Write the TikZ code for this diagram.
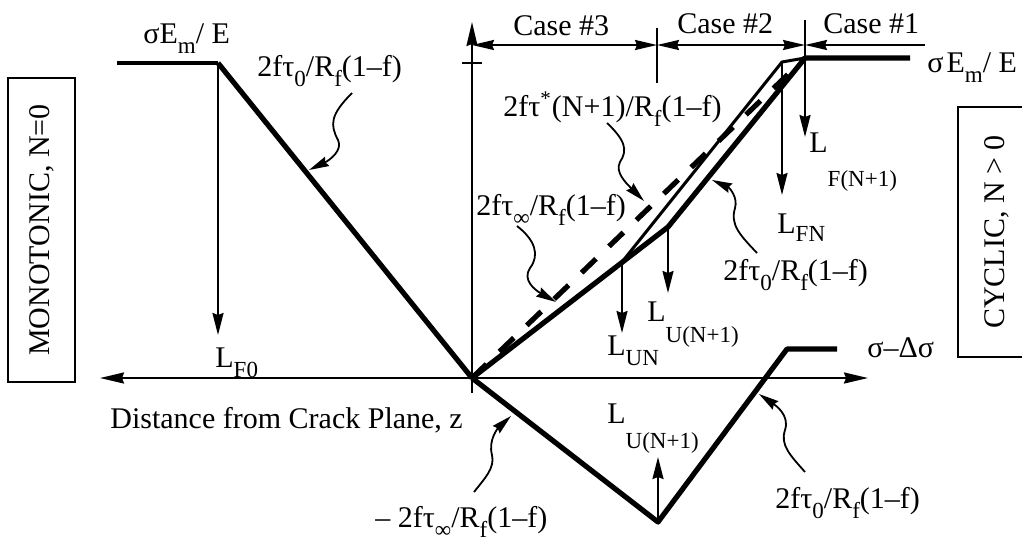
\documentclass[tikz,border=0pt]{standalone}
\usepackage{fontspec}
\setmainfont{Liberation Serif}
\usetikzlibrary{arrows.meta,positioning,calc}
% lowered subscripts, as the plot sets them
\newcommand{\sub}[1]{\raisebox{-0.35em}{\fontsize{11.5}{11.5}\selectfont #1}}
\newcommand{\lsub}[2]{\raisebox{-#1}{\fontsize{11.5}{11.5}\selectfont #2}}

\begin{document}
\begin{tikzpicture}[
    x=0.5pt, y=-0.5pt,
    font=\fontsize{15}{18}\selectfont,
    curve/.style={line width=2.6pt, line join=round},
    axis/.style={line width=1pt, -{Stealth[length=12pt,width=5.5pt,inset=1pt]}},
    drop/.style={line width=1pt, -{Stealth[length=11pt,width=5.5pt,inset=1pt]}},
    squig/.style={line width=0.9pt, -{Stealth[length=10pt,width=5pt,inset=1pt]}},
    span/.style={line width=1pt, {Stealth[length=11pt,width=5pt,inset=1pt]}-{Stealth[length=11pt,width=5pt,inset=1pt]}},
    lbl/.style={anchor=base west, inner sep=0pt},
    modebox/.style={draw, line width=1pt, rotate=90, inner sep=0pt},
]
    \useasboundingbox (0,0) rectangle (1022,542);

    % Mode boxes
    \node[modebox, minimum width=152pt, minimum height=33.5pt] (mono) at (41.5,230) {MONOTONIC, N=0};
    \node[modebox, minimum width=125pt, minimum height=39pt] (cyc) at (997,232) {CYCLIC, N > 0};

    % Axes
    \coordinate (O) at (472,378);
    \coordinate (xl) at (100,378);
    \coordinate (xr) at (868,378);
    \coordinate (yb) at (472,393);
    \coordinate (yt) at (472,22);
    \draw[axis] (O) -- (xl);
    \draw[axis] (O) -- (xr);
    \draw[axis] (yb) -- (yt);
    \draw[line width=1pt] (462,63) -- (482,63);

    % Case spans
    \coordinate (c3) at (472,45);
    \coordinate (c2) at (657,45);
    \coordinate (c1) at (805,45);
    \coordinate (c0) at (925,45);
    \draw[span] (c3) -- (c2);
    \draw[span] (c2) -- (c1);
    \draw[line width=1pt, -{Stealth[length=11pt,width=5pt,inset=1pt]}] (c0) -- (c1);
    \draw[line width=1pt] (657,28) -- (657,83);
    \node[lbl] (case3) at (513,35) {Case \#3};
    \node[lbl] (case2) at (677,33) {Case \#2};
    \node[lbl] (case1) at (823,33) {Case \#1};

    % Monotonic profile
    \coordinate (m0) at (117,63);
    \coordinate (m1) at (218,63);
    \draw[line width=1.8pt] (m0) -- (m1);
    \draw[curve] (m1) -- (O);
    \draw[drop] (m1) -- (218,335);
    \node[lbl] (sEl) at (143,43) {σE\sub{m}/ E};
    \node[lbl] (t0a) at (257,76) {2fτ\sub{0}/R\sub{f}(1–f)};
    \node[lbl] (LF0) at (215,367) {L\lsub{5pt}{F0}};
    \coordinate (t0aend) at (309,170);
    \draw[squig] (352,93) .. controls (330,115) and (330,125) .. (338,140)
        .. controls (343,150) and (330,160) .. (t0aend);

    % Cyclic profiles
    \coordinate (U1) at (622,262);
    \coordinate (U2) at (668,227);
    \coordinate (F1) at (782,62);
    \coordinate (P) at (805,58);
    \coordinate (Pe) at (910,58);
    \draw[curve] (O) -- (U2) -- (P) -- (Pe);
    \draw[line width=1.5pt, line join=round] (U1) -- (F1) -- (P);
    \draw[curve, dash pattern=on 10pt off 9pt] (O) -- (P);
    \draw[drop] (U1) -- (622,333);
    \draw[drop] (U2) -- (668,293);
    \draw[drop] (F1) -- (782,195);
    \draw[drop] (805,20) -- (805,137);
    \node[lbl] (sEr) at (927,72) {σ\kern1.5ptE\sub{m}/ E};
    \node[lbl] (LUN) at (607,355) {L\lsub{5pt}{UN}};
    \node[lbl] (LU1) at (647,321) {L\lsub{10.5pt}{U(N+1)}};
    \node[lbl] (LFN) at (777,233) {L\lsub{4pt}{FN}};
    \node[lbl] (LF1) at (809,152) {L\lsub{17pt}{F(N+1)}};

    % Slope labels
    \node[lbl] (tstar) at (503,116) {2fτ\textsuperscript{*}(N+1)/R\sub{f}(1–f)};
    \node[lbl] (tinf) at (476,215) {2fτ\sub{∞}/R\sub{f}(1–f)};
    \node[lbl] (t0b) at (723,280) {2fτ\sub{0}/R\sub{f}(1–f)};
    \coordinate (tstarend) at (644,201);
    \coordinate (tinfend) at (556,302);
    \coordinate (t0bend) at (712,180);
    \draw[squig] (607,123) .. controls (625,140) and (628,150) .. (620,162)
        .. controls (615,172) and (625,182) .. (tstarend);
    \draw[squig] (517,226) .. controls (535,240) and (540,255) .. (530,268)
        .. controls (522,280) and (535,290) .. (tinfend);
    \draw[squig] (757,253) .. controls (740,235) and (730,225) .. (735,208)
        .. controls (738,198) and (730,188) .. (t0bend);

    % Unloaded profile
    \coordinate (V) at (658,522);
    \coordinate (R) at (787,349);
    \coordinate (Re) at (837,349);
    \draw[curve] (O) -- (V) -- (R) -- (Re);
    \draw[drop] (V) -- (658,457);
    \node[lbl] (LU2) at (607,423) {L\lsub{12.5pt}{U(N+1)}};
    \node[lbl] (sds) at (867,357) {σ–Δσ};
    \node[lbl] (dist) at (110,428) {Distance from Crack Plane, z};
    \node[lbl] (tinfn) at (375,527) {– 2fτ\sub{∞}/R\sub{f}(1–f)};
    \node[lbl] (t0c) at (775,508) {2fτ\sub{0}/R\sub{f}(1–f)};
    \coordinate (tinfnend) at (511,416);
    \coordinate (t0cend) at (759,394);
    \draw[squig] (474,492) .. controls (485,478) and (495,468) .. (492,455)
        .. controls (488,440) and (498,428) .. (tinfnend);
    \draw[squig] (805,472) .. controls (790,455) and (780,445) .. (785,430)
        .. controls (790,415) and (775,405) .. (t0cend);
\end{tikzpicture}
\end{document}
